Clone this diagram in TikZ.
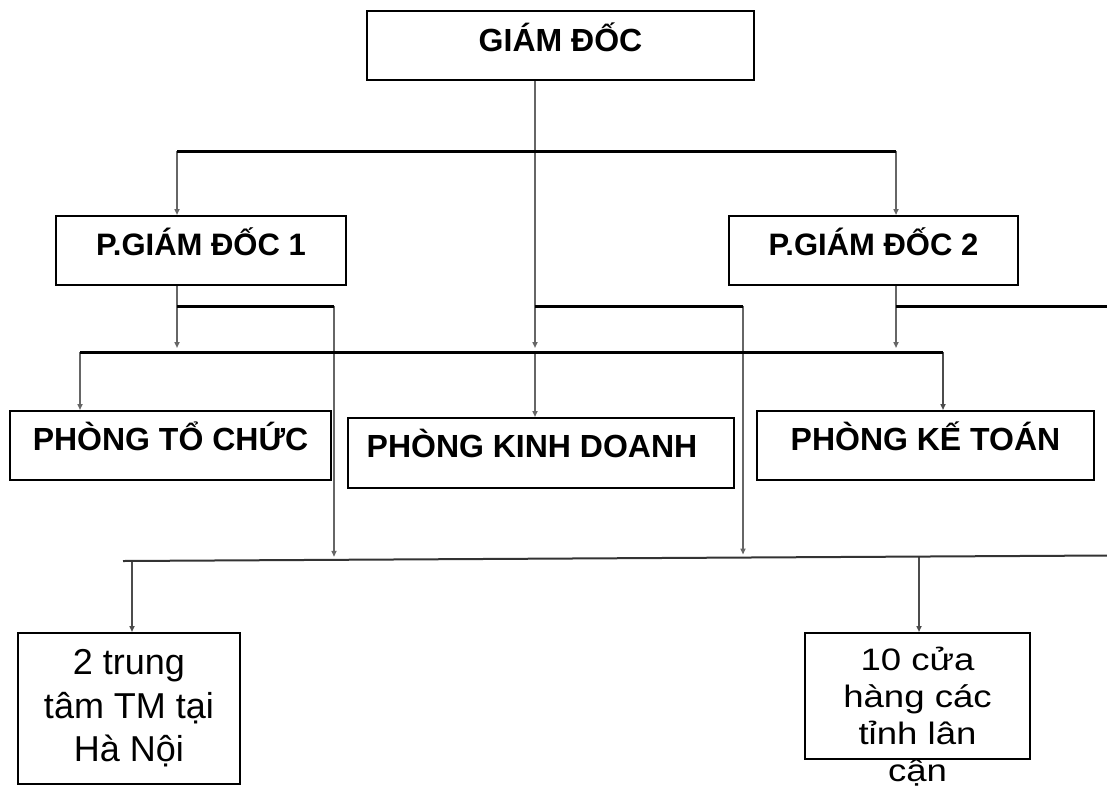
\documentclass[tikz,border=0pt]{standalone}
\usepackage{fontspec}
\setmainfont{Liberation Sans}
\newfontfamily\strf[FakeStretch=1.18]{Liberation Sans}
\usetikzlibrary{arrows.meta}
\begin{document}
\begin{tikzpicture}[x=1pt,y=-1pt,
  box/.style={draw=black,line width=2pt,rectangle,inner sep=0pt,
    font=\bfseries\fontsize{32}{38}\selectfont,text height=23pt,text depth=14pt},
  pbox/.style={box,font=\bfseries\fontsize{31}{37}\selectfont},
  lbox/.style={draw=black,line width=2pt,rectangle,inner sep=0pt},
  bar/.style={line width=3pt,black},
  bar2/.style={line width=2pt,black!80},
  link/.style={line width=1.6pt,black!60,-{Triangle[length=6pt,width=5pt]}},
  dlink/.style={link,line width=2.4pt,black!70},
  plain/.style={line width=1.6pt,black!60}
]
\useasboundingbox (0,0) rectangle (1107,785);

% boxes
\node[box,minimum width=387pt,minimum height=69pt,text depth=11pt] (gd) at (560.5,45.5) {GIÁM ĐỐC};
\node[pbox,minimum width=290pt,minimum height=69pt] (pg1) at (201,250.5) {P.GIÁM ĐỐC 1};
\node[pbox,minimum width=289pt,minimum height=69pt] (pg2) at (873.5,250.5) {P.GIÁM ĐỐC 2};
\node[box,minimum width=321pt,minimum height=69pt] (ptc) at (170.5,445.5) {PHÒNG TỔ CHỨC};
\node[box,minimum width=386pt,minimum height=70pt] (pkd) at (541,453) {PHÒNG KINH DOANH\hspace*{18pt}};
\node[box,minimum width=337pt,minimum height=69pt] (pkt) at (925.5,445.5) {PHÒNG KẾ TOÁN};
\node[lbox,minimum width=222pt,minimum height=151pt,align=center,
      font=\fontsize{36}{43.5}\selectfont] (b1) at (129,708.5) {2 trung\\tâm TM tại\\Hà Nội};
\node[lbox,minimum width=225pt,minimum height=126pt] (b2) at (917.5,696) {};
\node[anchor=base,inner sep=0pt] (b2t) at (917.5,670.7)
  {\parbox[t]{220pt}{\centering\strf\fontsize{31}{37}\selectfont 10 cửa\\hàng các\\tỉnh lân\\cận}};

% junction coordinates
\coordinate (a1) at (177,151);
\coordinate (a2) at (896,151);
\coordinate (c1) at (177,352);
\coordinate (c2) at (896,352);
\coordinate (m1) at (535,352);
\coordinate (bl) at (80,352);
\coordinate (br) at (943,352);
\coordinate (d1) at (177,306);
\coordinate (d2) at (334,306);
\coordinate (m2) at (535,306);
\coordinate (d3) at (743,306);
\coordinate (d4) at (896,306);
\coordinate (d5) at (1107,306);
\coordinate (g1) at (123,561);
\coordinate (g2) at (1107,555.5);
\coordinate (e1) at (334,559.8);
\coordinate (e2) at (743,557.5);
\coordinate (f1) at (132,560.9);
\coordinate (f2) at (919,556.5);

% vertical connectors
\draw[link,shorten >=4pt] (gd.south -| m1) -- (m1);
\draw[link] (m1) -- (m1 |- pkd.north);
\draw[link] (a1) -- (a1 |- pg1.north);
\draw[link] (a2) -- (a2 |- pg2.north);
\draw[link,shorten >=4pt] (pg1.south -| c1) -- (c1);
\draw[link,shorten >=4pt] (pg2.south -| c2) -- (c2);
\draw[link] (bl) -- (bl |- ptc.north);
\draw[dlink] (br) -- (br |- pkt.north);
\draw[link,shorten >=3pt] (d2) -- (e1);
\draw[link,shorten >=3pt] (d3) -- (e2);
\draw[dlink] (f1) -- (f1 |- b1.north);
\draw[dlink] (f2) -- (f2 |- b2.north);

% bars
\draw[bar] (a1) -- (a2);
\draw[bar] (bl) -- (br);
\draw[bar] (d1) -- (d2);
\draw[bar] (m2) -- (d3);
\draw[bar] (d4) -- (d5);
\draw[bar2] (g1) -- (g2);
\end{tikzpicture}
\end{document}
